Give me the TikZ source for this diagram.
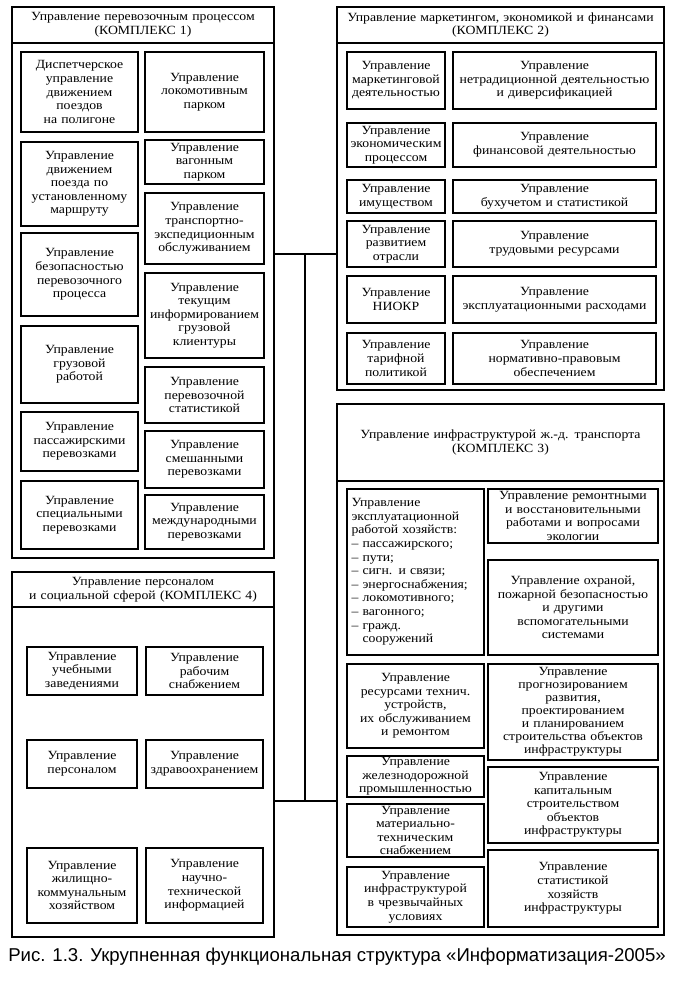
\documentclass[tikz,border=0pt]{standalone}
\usepackage{fontspec}
\setmainfont[FakeStretch=1.1]{Liberation Serif}
\newfontfamily\capfont{Liberation Sans}
\usetikzlibrary{positioning, calc}

% box with corners (x1,y1) and (x2,y2) in pixels of the scan
\newcommand{\cellbox}[7][]{%
  \pgfmathsetmacro{\cw}{#5-#3}%
  \pgfmathsetmacro{\ch}{#6-#4}%
  \pgfmathsetmacro{\tw}{#5-#3-3}%
  \node[cell, minimum width=\cw pt, minimum height=\ch pt, text width=\tw pt, #1] (#2) at ({(#3+#5)/2},{(#4+#6)/2}) {#7};}

\begin{document}
\begin{tikzpicture}[x=1pt, y=-1pt,
    cell/.style={draw, line width=1.3pt, align=center, inner sep=1pt, font=\fontsize{12.5}{13.6}\selectfont},
    frame/.style={draw, line width=2.2pt, align=center, inner sep=1pt, font=\fontsize{12.5}{13.6}\selectfont},
    link/.style={line width=1.8pt}]
    \useasboundingbox (0,0) rectangle (680,989);

    % Complex 1
    \cellbox[frame]{k1}{12}{7}{274}{558}{}
    \cellbox[frame]{k1t}{12}{7}{274}{43}{Управление перевозочным процессом\\(КОМПЛЕКС 1)}
    \cellbox{c1a}{21}{52}{138}{132}{Диспетчерское\\управление\\движением\\поездов\\на полигоне}
    \cellbox{c1b}{21}{142}{138}{226}{Управление\\движением\\поезда по\\установленному\\маршруту}
    \cellbox{c1c}{21}{233}{138}{316}{Управление\\безопасностью\\перевозочного\\процесса}
    \cellbox{c1d}{21}{326}{138}{403}{Управление\\грузовой\\работой}
    \cellbox{c1e}{21}{412}{138}{471}{Управление\\пассажирскими\\перевозками}
    \cellbox{c1f}{21}{481}{138}{549}{Управление\\специальными\\перевозками}
    \cellbox{c1g}{145}{52}{264}{132}{Управление\\локомотивным\\парком}
    \cellbox{c1h}{145}{140}{264}{184}{Управление\\вагонным\\парком}
    \cellbox{c1i}{145}{193}{264}{264}{Управление\\транспортно-\\экспедиционным\\обслуживанием}
    \cellbox{c1j}{145}{273}{264}{358}{Управление\\текущим\\информированием\\грузовой\\клиентуры}
    \cellbox{c1k}{145}{367}{264}{423}{Управление\\перевозочной\\статистикой}
    \cellbox{c1l}{145}{431}{264}{488}{Управление\\смешанными\\перевозками}
    \cellbox{c1m}{145}{495}{264}{549}{Управление\\международными\\перевозками}

    % Complex 2
    \cellbox[frame]{k2}{337}{7}{664}{390}{}
    \cellbox[frame]{k2t}{337}{7}{664}{43}{Управление маркетингом, экономикой и финансами\\(КОМПЛЕКС 2)}
    \cellbox{c2a}{347}{52}{445}{109}{Управление\\маркетинговой\\деятельностью}
    \cellbox{c2b}{347}{123}{445}{167}{Управление\\экономическим\\процессом}
    \cellbox{c2c}{347}{180}{445}{213}{Управление\\имуществом}
    \cellbox{c2d}{347}{221}{445}{267}{Управление\\развитием\\отрасли}
    \cellbox{c2e}{347}{276}{445}{323}{Управление\\НИОКР}
    \cellbox{c2f}{347}{333}{445}{384}{Управление\\тарифной\\политикой}
    \cellbox{c2g}{453}{52}{656}{109}{Управление\\нетрадиционной деятельностью\\и диверсификацией}
    \cellbox{c2h}{453}{123}{656}{167}{Управление\\финансовой деятельностью}
    \cellbox{c2i}{453}{180}{656}{213}{Управление\\бухучетом и статистикой}
    \cellbox{c2j}{453}{221}{656}{267}{Управление\\трудовыми ресурсами}
    \cellbox{c2k}{453}{276}{656}{323}{Управление\\эксплуатационными расходами}
    \cellbox{c2l}{453}{333}{656}{384}{Управление\\нормативно-правовым\\обеспечением}

    % Complex 3
    \cellbox[frame]{k3}{337}{404}{664}{935}{}
    \cellbox[frame]{k3t}{337}{404}{664}{481}{Управление инфраструктурой ж.-д. транспорта\\(КОМПЛЕКС 3)}
    \cellbox[align=left, text width=128pt]{c3a}{347}{489}{484}{655}{Управление\\эксплуатационной\\работой хозяйств:\\– пассажирского;\\– пути;\\– сигн. и связи;\\– энергоснабжения;\\– локомотивного;\\– вагонного;\\– гражд.\\\hphantom{– }сооружений}
    \cellbox{c3b}{347}{664}{484}{748}{Управление\\ресурсами технич.\\устройств,\\их обслуживанием\\и ремонтом}
    \cellbox{c3c}{347}{756}{484}{797}{Управление\\железнодорожной\\промышленностью}
    \cellbox{c3d}{347}{804}{484}{857}{Управление\\материально-\\техническим\\снабжением}
    \cellbox{c3e}{347}{867}{484}{927}{Управление\\инфраструктурой\\в чрезвычайных\\условиях}
    \cellbox{c3f}{488}{489}{658}{543}{Управление ремонтными\\и восстановительными\\работами и вопросами\\экологии}
    \cellbox{c3g}{488}{560}{658}{655}{Управление охраной,\\пожарной безопасностью\\и другими\\вспомогательными\\системами}
    \cellbox[font=\fontsize{12.5}{13}\selectfont]{c3h}{488}{664}{658}{760}{Управление\\прогнозированием\\развития,\\проектированием\\и планированием\\строительства объектов\\инфраструктуры}
    \cellbox{c3i}{488}{767}{658}{843}{Управление\\капитальным\\строительством\\объектов\\инфраструктуры}
    \cellbox{c3j}{488}{850}{658}{927}{Управление\\статистикой\\хозяйств\\инфраструктуры}

    % Complex 4
    \cellbox[frame]{k4}{12}{572}{274}{937}{}
    \cellbox[frame]{k4t}{12}{572}{274}{607}{Управление персоналом\\и социальной сферой (КОМПЛЕКС 4)}
    \cellbox{c4a}{27}{647}{137}{695}{Управление\\учебными\\заведениями}
    \cellbox{c4b}{146}{647}{263}{695}{Управление\\рабочим\\снабжением}
    \cellbox{c4c}{27}{740}{137}{788}{Управление\\персоналом}
    \cellbox{c4d}{146}{740}{263}{788}{Управление\\здравоохранением}
    \cellbox{c4e}{27}{848}{137}{923}{Управление\\жилищно-\\коммунальным\\хозяйством}
    \cellbox{c4f}{146}{848}{263}{923}{Управление\\научно-\\технической\\информацией}

    % Links between the complexes
    \coordinate (j1) at (305,254);
    \coordinate (j2) at (305,801);
    \draw[link] (k1.east |- j1) -- (k2.west |- j1);
    \draw[link] (j1) -- (j2);
    \draw[link] (k4.east |- j2) -- (k3.west |- j2);

    % Caption
    \node[font=\capfont\fontsize{18.6}{20}\selectfont] (cap) at (337,957) {Рис. 1.3. Укрупненная функциональная структура «Информатизация-2005»};
\end{tikzpicture}
\end{document}
